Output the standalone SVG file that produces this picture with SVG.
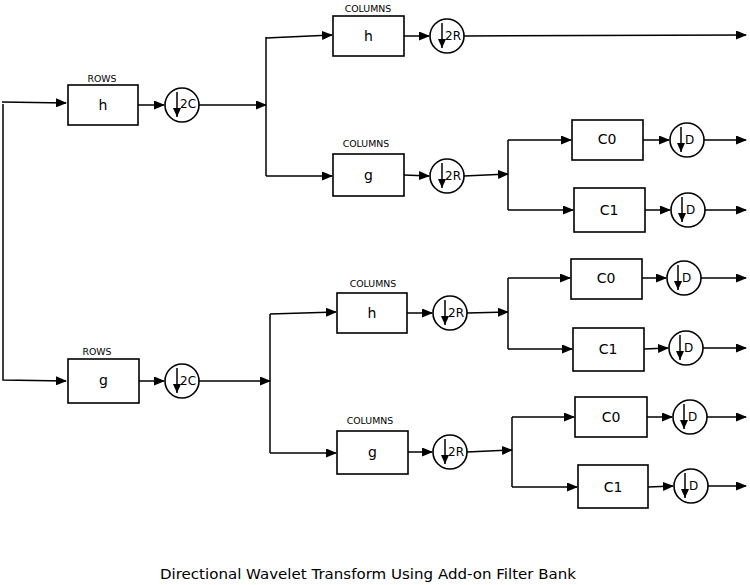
<svg xmlns="http://www.w3.org/2000/svg" width="750" height="585" viewBox="0 0 750 585">
<defs>
<marker id="ah" markerWidth="11" markerHeight="9" refX="10" refY="4.5" orient="auto" markerUnits="userSpaceOnUse">
<path d="M0,0 L11,4.5 L0,9 z" fill="#000"/>
</marker>
<marker id="dh" markerWidth="9" markerHeight="10" refX="9" refY="4" orient="auto" markerUnits="userSpaceOnUse">
<path d="M0,0 L9,4 L0,8 z" fill="#000"/>
</marker>
<style>
.c{fill:none;stroke:#000;stroke-width:1.5}
.b{fill:#fff;stroke:#000;stroke-width:1.6}
.t{font-family:"DejaVu Sans",Verdana,sans-serif;fill:#000;text-anchor:middle}
.bt{font-size:14px}
.sm{font-size:9.4px}
.ct{font-family:"DejaVu Sans",Verdana,sans-serif;fill:#000;font-size:12px}
.da{stroke:#000;stroke-width:1.5;fill:none}
</style>
</defs>
<rect width="750" height="585" fill="#fff"/>
<g id="connectors" class="c">
<path d="M2,102 L66,103" marker-end="url(#ah)"/>
<path d="M3,104 L3,380 L66,381" marker-end="url(#ah)"/>
<path d="M138,105 L164,105" marker-end="url(#ah)"/>
<path d="M199,105 L266,105" marker-end="url(#ah)"/>
<path d="M266,37 L266,176"/>
<path d="M266,38 L332,35" marker-end="url(#ah)"/>
<path d="M266,176 L332,176" marker-end="url(#ah)"/>
<path d="M404,36 L429,36" marker-end="url(#ah)"/>
<path d="M464,36 L746,35" marker-end="url(#ah)"/>
<path d="M404,175 L429,176" marker-end="url(#ah)"/>
<path d="M464,176 L508,174" marker-end="url(#ah)"/>
<path d="M508,140 L508,210"/>
<path d="M508,140 L571,140" marker-end="url(#ah)"/>
<path d="M508,210 L573,210" marker-end="url(#ah)"/>
<path d="M643,140 L669,140" marker-end="url(#ah)"/>
<path d="M704,140 L746,140" marker-end="url(#ah)"/>
<path d="M645,210 L670,210" marker-end="url(#ah)"/>
<path d="M705,210 L746,210" marker-end="url(#ah)"/>
<path d="M139,381 L164,381" marker-end="url(#ah)"/>
<path d="M199,381 L270,381" marker-end="url(#ah)"/>
<path d="M270,314 L270,453"/>
<path d="M270,314 L336,312" marker-end="url(#ah)"/>
<path d="M270,453 L336,453" marker-end="url(#ah)"/>
<path d="M407,313 L432,313" marker-end="url(#ah)"/>
<path d="M467,313 L508,312" marker-end="url(#ah)"/>
<path d="M508,278 L508,349"/>
<path d="M508,278 L570,278" marker-end="url(#ah)"/>
<path d="M508,349 L572,349" marker-end="url(#ah)"/>
<path d="M642,278 L666,278" marker-end="url(#ah)"/>
<path d="M701,278 L746,278" marker-end="url(#ah)"/>
<path d="M644,349 L668,348" marker-end="url(#ah)"/>
<path d="M703,348 L746,348" marker-end="url(#ah)"/>
<path d="M408,452 L432,452" marker-end="url(#ah)"/>
<path d="M467,452 L512,450" marker-end="url(#ah)"/>
<path d="M512,417 L512,487"/>
<path d="M512,417 L574,417" marker-end="url(#ah)"/>
<path d="M512,487 L577,487" marker-end="url(#ah)"/>
<path d="M647,417 L672,417" marker-end="url(#ah)"/>
<path d="M707,417 L746,417" marker-end="url(#ah)"/>
<path d="M648,487 L673,486" marker-end="url(#ah)"/>
<path d="M708,486 L746,486" marker-end="url(#ah)"/>
</g>
<g id="rows-h"><rect class="b" x="68" y="85" width="70" height="40"/><text class="t bt" x="103" y="110">h</text><text class="t sm" x="102" y="82">ROWS</text></g>
<g id="down2c-top"><circle class="b" cx="182" cy="105" r="17"/><line class="da" x1="177" y1="92" x2="177" y2="117" marker-end="url(#dh)"/><text class="ct" x="180" y="108">2C</text></g>
<g id="cols-h-top"><rect class="b" x="333" y="16" width="71" height="40"/><text class="t bt" x="368.5" y="41">h</text><text class="t sm" x="368" y="12">COLUMNS</text></g>
<g id="down2r-1"><circle class="b" cx="447" cy="36" r="17"/><line class="da" x1="442" y1="23" x2="442" y2="48" marker-end="url(#dh)"/><text class="ct" x="445" y="40">2R</text></g>
<g id="cols-g-top"><rect class="b" x="333" y="154" width="71" height="42"/><text class="t bt" x="368.5" y="180">g</text><text class="t sm" x="366" y="147">COLUMNS</text></g>
<g id="down2r-2"><circle class="b" cx="447" cy="176" r="17"/><line class="da" x1="442" y1="163" x2="442" y2="188" marker-end="url(#dh)"/><text class="ct" x="445" y="180">2R</text></g>
<g id="c0-a"><rect class="b" x="572" y="120" width="71" height="40"/><text class="t bt" x="607" y="144">C0</text></g>
<g id="c1-a"><rect class="b" x="574" y="188" width="71" height="44"/><text class="t bt" x="609" y="215">C1</text></g>
<g id="d-a0"><circle class="b" cx="687" cy="140" r="17"/><line class="da" x1="681" y1="127" x2="681" y2="152" marker-end="url(#dh)"/><text class="ct" x="685" y="144">D</text></g>
<g id="d-a1"><circle class="b" cx="688" cy="210" r="17"/><line class="da" x1="682" y1="197" x2="682" y2="222" marker-end="url(#dh)"/><text class="ct" x="686" y="214">D</text></g>
<g id="rows-g"><rect class="b" x="68" y="359" width="71" height="44"/><text class="t bt" x="103.5" y="385">g</text><text class="t sm" x="97" y="355">ROWS</text></g>
<g id="down2c-bot"><circle class="b" cx="182" cy="381" r="17"/><line class="da" x1="177" y1="368" x2="177" y2="393" marker-end="url(#dh)"/><text class="ct" x="180" y="385">2C</text></g>
<g id="cols-h-bot"><rect class="b" x="337" y="293" width="70" height="40"/><text class="t bt" x="372" y="318">h</text><text class="t sm" x="373" y="287">COLUMNS</text></g>
<g id="down2r-3"><circle class="b" cx="450" cy="313" r="17"/><line class="da" x1="445" y1="300" x2="445" y2="325" marker-end="url(#dh)"/><text class="ct" x="448" y="317">2R</text></g>
<g id="c0-b"><rect class="b" x="571" y="259" width="71" height="40"/><text class="t bt" x="606" y="283">C0</text></g>
<g id="c1-b"><rect class="b" x="573" y="328" width="71" height="43"/><text class="t bt" x="608" y="354">C1</text></g>
<g id="d-b0"><circle class="b" cx="684" cy="278" r="17"/><line class="da" x1="678" y1="265" x2="678" y2="290" marker-end="url(#dh)"/><text class="ct" x="682" y="282">D</text></g>
<g id="d-b1"><circle class="b" cx="686" cy="348" r="17"/><line class="da" x1="680" y1="335" x2="680" y2="360" marker-end="url(#dh)"/><text class="ct" x="684" y="352">D</text></g>
<g id="cols-g-bot"><rect class="b" x="337" y="431" width="71" height="43"/><text class="t bt" x="372.5" y="457">g</text><text class="t sm" x="370" y="424">COLUMNS</text></g>
<g id="down2r-4"><circle class="b" cx="450" cy="452" r="17"/><line class="da" x1="445" y1="439" x2="445" y2="464" marker-end="url(#dh)"/><text class="ct" x="448" y="456">2R</text></g>
<g id="c0-c"><rect class="b" x="575" y="397" width="72" height="40"/><text class="t bt" x="611" y="422">C0</text></g>
<g id="c1-c"><rect class="b" x="578" y="465" width="70" height="43"/><text class="t bt" x="613" y="492">C1</text></g>
<g id="d-c0"><circle class="b" cx="690" cy="417" r="17"/><line class="da" x1="684" y1="404" x2="684" y2="429" marker-end="url(#dh)"/><text class="ct" x="688" y="421">D</text></g>
<g id="d-c1"><circle class="b" cx="691" cy="486" r="17"/><line class="da" x1="685" y1="473" x2="685" y2="498" marker-end="url(#dh)"/><text class="ct" x="689" y="490">D</text></g>
<text class="t" x="368" y="579" font-size="14.5" textLength="416" lengthAdjust="spacingAndGlyphs">Directional Wavelet Transform Using Add-on Filter Bank</text>
</svg>
